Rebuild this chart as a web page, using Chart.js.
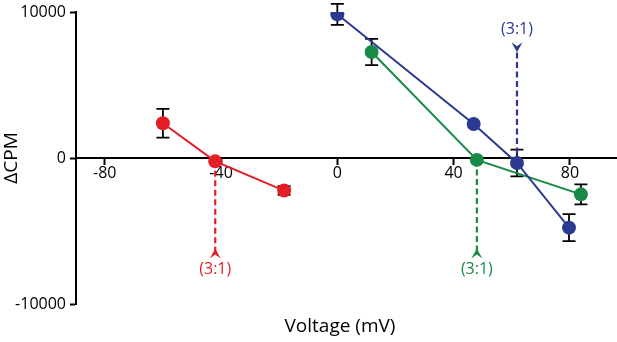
<!DOCTYPE html>
<html>
<head>
<meta charset="utf-8">
<script src="https://cdn.jsdelivr.net/npm/chart.js@4/dist/chart.umd.min.js"></script>
<style>
html,body{margin:0;padding:0;background:#fff;}
#wrap{width:617px;height:342px;}
</style>
</head>
<body>
<div id="wrap"><canvas id="c" width="617" height="342"></canvas></div>
<script>
// ---- data ----
const redVoltage = [-60, -42, -18.3];
const redCPM = [2380, -230, -2230];
const redErr = [980, 0, 300];

const blueVoltage = [0, 46.9, 61.8, 79.7];
const blueCPM = [9840, 2330, -340, -4770];
const blueErr = [720, 0, 920, 920];

const greenVoltage = [11.8, 48, 83.8];
const greenCPM = [7260, -130, -2490];
const greenErr = [900, 0, 680];

const xTickValues = [-80, -40, 0, 40, 80];
const yTickValues = [-10000, 0, 10000];

// reversal markers: x (mV), line start y, arrow tip y, label y (CPM)
const reversalLabel = '(3:1)';
const redReversal = [-42, -230, -6200, -7600];
const greenReversal = [48, -130, -6200, -7600];
const blueReversal = [61.8, -340, 7250, 8800];

const RED = '#e31e26', BLUE = '#2b3990', GREEN = '#178a45';
const FONT = '"Open Sans", sans-serif';

function pts(xs, ys) { return xs.map((x, i) => ({x: x, y: ys[i]})); }

const errorBarPlugin = {
  id: 'errbars',
  beforeDatasetsDraw(chart) {
    const ctx = chart.ctx, xs = chart.scales.x, ys = chart.scales.y;
    ctx.save();
    ctx.strokeStyle = '#000';
    ctx.lineWidth = 1.8;
    chart.data.datasets.forEach(ds => {
      ds.data.forEach((p, i) => {
        const e = ds.errors[i];
        if (!e) return;
        const px = xs.getPixelForValue(p.x);
        const y1 = ys.getPixelForValue(p.y + e), y2 = ys.getPixelForValue(p.y - e);
        ctx.beginPath();
        ctx.moveTo(px, y1); ctx.lineTo(px, y2);
        ctx.moveTo(px - 6.5, y1); ctx.lineTo(px + 6.5, y1);
        ctx.moveTo(px - 6.5, y2); ctx.lineTo(px + 6.5, y2);
        ctx.stroke();
      });
    });
    ctx.restore();
  }
};

const reversalPlugin = {
  id: 'reversal',
  beforeDatasetsDraw(chart) {
    const ctx = chart.ctx, xs = chart.scales.x, ys = chart.scales.y;
    const items = [[redReversal, RED], [greenReversal, GREEN], [blueReversal, BLUE]];
    ctx.save();
    items.forEach(([r, col]) => {
      const px = xs.getPixelForValue(r[0]);
      const yStart = ys.getPixelForValue(r[1]);
      const yTip = ys.getPixelForValue(r[2]);
      const yLab = ys.getPixelForValue(r[3]);
      const dir = yTip > yStart ? 1 : -1;
      ctx.strokeStyle = col;
      ctx.fillStyle = col;
      ctx.lineWidth = 2.2;
      ctx.setLineDash([6, 3.5]);
      ctx.beginPath();
      ctx.moveTo(px, yStart);
      ctx.lineTo(px, yTip + dir * 5);
      ctx.stroke();
      ctx.setLineDash([]);
      ctx.beginPath();
      ctx.moveTo(px, yTip);
      ctx.lineTo(px + 5.5, yTip + dir * 10);
      ctx.lineTo(px, yTip + dir * 6);
      ctx.lineTo(px - 5.5, yTip + dir * 10);
      ctx.closePath();
      ctx.fill();
      ctx.font = '16px ' + FONT;
      ctx.textAlign = 'center';
      ctx.textBaseline = 'middle';
      ctx.fillText(reversalLabel, px, yLab);
    });
    ctx.restore();
  }
};

const xTitlePlugin = {
  id: 'xtitle',
  afterDraw(chart) {
    const ctx = chart.ctx, a = chart.chartArea;
    const y0 = chart.scales.y.getPixelForValue(0);
    ctx.save();
    // extend x-axis line to the canvas edge
    ctx.strokeStyle = '#000';
    ctx.lineWidth = 2;
    ctx.beginPath();
    ctx.moveTo(a.right - 1, y0);
    ctx.lineTo(chart.width, y0);
    ctx.stroke();
    ctx.font = '19px ' + FONT;
    ctx.fillStyle = '#000';
    ctx.textAlign = 'center';
    ctx.textBaseline = 'middle';
    ctx.fillText('Voltage (mV)', 340, 327);
    ctx.restore();
  }
};

new Chart(document.getElementById('c'), {
  type: 'scatter',
  data: {
    datasets: [
      {data: pts(redVoltage, redCPM), errors: redErr, borderColor: RED, backgroundColor: RED, showLine: true, borderWidth: 2, pointRadius: 7, pointBorderWidth: 0, pointHoverRadius: 7},
      {data: pts(blueVoltage, blueCPM), errors: blueErr, borderColor: BLUE, backgroundColor: BLUE, showLine: true, borderWidth: 2, pointRadius: 7, pointBorderWidth: 0, pointHoverRadius: 7},
      {data: pts(greenVoltage, greenCPM), errors: greenErr, borderColor: GREEN, backgroundColor: GREEN, showLine: true, borderWidth: 2, pointRadius: 7, pointBorderWidth: 0, pointHoverRadius: 7}
    ]
  },
  options: {
    responsive: false,
    animation: false,
    devicePixelRatio: 1,
    layout: {padding: {top: 12, right: 0, bottom: 38, left: 0}},
    plugins: {legend: {display: false}, tooltip: {enabled: false}},
    scales: {
      x: {
        type: 'linear',
        position: {y: 0},
        min: -89.9, max: 93.8,
        afterBuildTicks(s) { s.ticks = xTickValues.map(v => ({value: v})); },
        afterFit(s) { s.paddingLeft = 0; s.paddingRight = 0; },
        grid: {drawOnChartArea: false, drawTicks: true, tickLength: 6, tickWidth: 2, tickColor: '#000'},
        border: {display: true, color: '#000', width: 2},
        ticks: {color: '#000', font: {family: FONT, size: 16}, padding: 0, maxRotation: 0,
                callback: v => String(v)}
      },
      y: {
        type: 'linear',
        position: 'left',
        min: -10000, max: 10000,
        afterBuildTicks(s) { s.ticks = yTickValues.map(v => ({value: v})); },
        afterFit(s) { s.width = 76; s.paddingTop = 0; s.paddingBottom = 0; },
        grid: {drawOnChartArea: false, drawTicks: true, tickLength: 6, tickWidth: 2, tickColor: '#000'},
        border: {display: true, color: '#000', width: 2},
        ticks: {color: '#000', font: {family: FONT, size: 16}, padding: 4, callback: v => String(v)},
        title: {display: true, text: 'ΔCPM', color: '#000', font: {family: FONT, size: 19}, padding: 0}
      }
    }
  },
  plugins: [errorBarPlugin, reversalPlugin, xTitlePlugin]
});
</script>
</body>
</html>
